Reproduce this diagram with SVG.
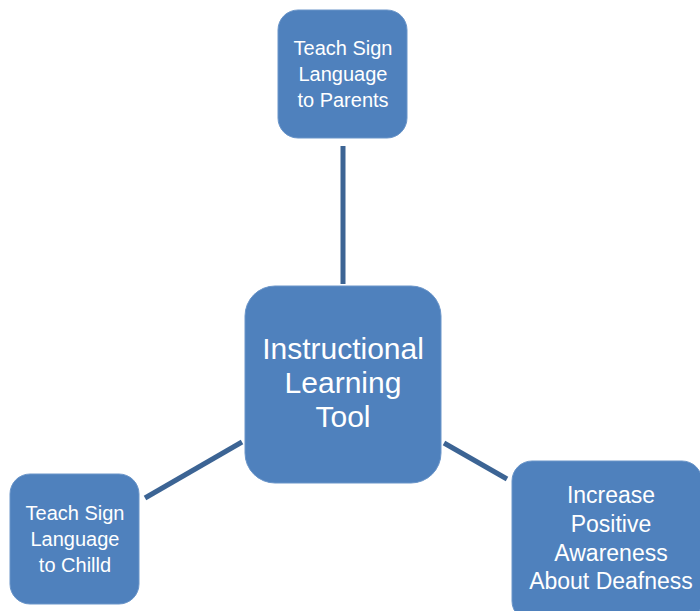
<svg xmlns="http://www.w3.org/2000/svg" width="700" height="611" viewBox="0 0 700 611">
<style>
.box{fill:#4f81bd;stroke:#6a95c9;stroke-width:1}
.t{fill:#ffffff;font-family:"Liberation Sans",Arial,sans-serif;text-anchor:middle}
.c{stroke:#3c6494;stroke-width:5;fill:none}
</style>
<rect width="700" height="611" fill="#ffffff"/>
<g id="connectors">
<line class="c" x1="343" y1="146" x2="343" y2="284"/>
<line class="c" x1="145" y1="498" x2="242" y2="442"/>
<line class="c" x1="444" y1="443" x2="507" y2="479"/>
</g>
<g id="node-parents">
<rect class="box" x="278" y="10" width="129" height="128" rx="20"/>
<text class="t" font-size="20"><tspan x="343" y="55">Teach Sign</tspan><tspan x="343" y="81">Language</tspan><tspan x="343" y="107">to Parents</tspan></text>
</g>
<g id="node-center">
<rect class="box" x="245" y="286" width="196" height="197" rx="30"/>
<text class="t" font-size="30"><tspan x="343" y="359">Instructional</tspan><tspan x="343" y="393">Learning</tspan><tspan x="343" y="427">Tool</tspan></text>
</g>
<g id="node-child">
<rect class="box" x="10" y="474" width="129" height="130" rx="20"/>
<text class="t" font-size="20"><tspan x="75" y="520">Teach Sign</tspan><tspan x="75" y="546">Language</tspan><tspan x="75" y="572">to Chilld</tspan></text>
</g>
<g id="node-awareness">
<rect class="box" x="512" y="461" width="190" height="160" rx="20"/>
<text class="t" font-size="23"><tspan x="611" y="503">Increase</tspan><tspan x="611" y="532">Positive</tspan><tspan x="611" y="561">Awareness</tspan><tspan x="611" y="589">About Deafness</tspan></text>
</g>
</svg>
